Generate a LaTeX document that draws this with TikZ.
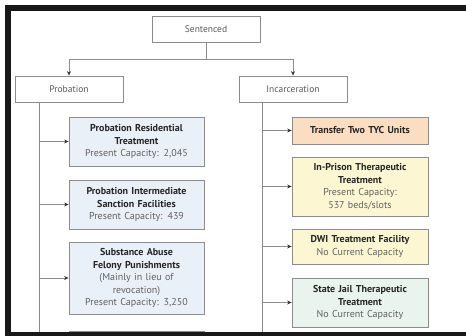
\documentclass[tikz,border=0pt]{standalone}
\usepackage{fontspec}
\setmainfont{PT Sans}
\usetikzlibrary{arrows.meta}
\definecolor{lineg}{HTML}{8C8C8C}
\definecolor{probfill}{HTML}{EAF0F8}
\definecolor{tycfill}{HTML}{FBDDC2}
\definecolor{prisonfill}{HTML}{FCF7D2}
\definecolor{jailfill}{HTML}{E9F4EE}
\newcommand{\capline}[1]{{\color{black!62}#1}}
\begin{document}
\begin{tikzpicture}[x=1pt,y=-1pt,
        stage/.style={draw=lineg,line width=0.8pt,fill=white,text=black!65,
            minimum width=108pt,minimum height=26pt,inner sep=2pt,
            font=\fontsize{9.5}{11}\selectfont},
        prog/.style={draw=lineg,line width=0.8pt,text=black!85,
            minimum width=135pt,text width=131pt,align=center,inner sep=2pt,
            font=\fontsize{10}{12.5}\selectfont},
        link/.style={draw=lineg,line width=0.8pt},
        arr/.style={link,-{Stealth[length=4.5pt,width=4pt,black!80]}}]
    \useasboundingbox (0,0) rectangle (466,336);

    % stages
    \node[stage] (sent) at (206,29) {Sentenced};
    \node[stage] (prob) at (69,89) {Probation};
    \node[stage] (inc) at (293,89) {Incarceration};

    \coordinate (split) at (206,59);
    \draw[link] (sent.south) -- (split);
    \draw[arr] (split) -| (prob.north);
    \draw[arr] (split) -| (inc.north);

    % probation side
    \node[prog,fill=probfill,minimum height=49pt] (res) at (136.5,141.5)
        {\textbf{Probation Residential}\\\textbf{Treatment}\\\capline{Present Capacity: 2,045}};
    \node[prog,fill=probfill,minimum height=49pt] (isf) at (136.5,204.5)
        {\textbf{Probation Intermediate}\\\textbf{Sanction Facilities}\\\capline{Present Capacity: 439}};
    \node[prog,fill=probfill,minimum height=72pt] (safp) at (136.5,278)
        {\textbf{Substance Abuse}\\\textbf{Felony Punishments}\\\capline{(Mainly in lieu of}\\\capline{revocation)}\\\capline{Present Capacity: 3,250}};
    \node[prog,fill=jailfill,minimum height=30pt] (more) at (136.5,346) {};

    \coordinate (pend) at (39,336);
    \draw[link] (prob.south -| pend) -- (pend);
    \foreach \b in {res,isf,safp}
        \draw[arr] (pend |- \b.west) -- (\b.west);

    % incarceration side
    \node[prog,fill=tycfill,minimum width=136pt,minimum height=27pt] (tyc) at (360,130.5)
        {\textbf{Transfer Two TYC Units}};
    \node[prog,fill=prisonfill,minimum width=136pt,minimum height=59pt] (ipt) at (360,186.5)
        {\textbf{In-Prison Therapeutic}\\\textbf{Treatment}\\\capline{Present Capacity:}\\\capline{537 beds/slots}};
    \node[prog,fill=prisonfill,minimum width=136pt,minimum height=35pt] (dwi) at (360,246.5)
        {\textbf{DWI Treatment Facility}\\\capline{No Current Capacity}};
    \node[prog,fill=jailfill,minimum width=136pt,minimum height=49pt] (sjt) at (360,302.5)
        {\textbf{State Jail Therapeutic}\\\textbf{Treatment}\\\capline{No Current Capacity}};

    \coordinate (iend) at (262,336);
    \draw[link] (inc.south -| iend) -- (iend);
    \foreach \b in {tyc,ipt,dwi,sjt}
        \draw[arr] (iend |- \b.west) -- (\b.west);

    % frame
    \fill[black!90] (5,5) rectangle (466,11);
    \fill[black!90] (5,5) rectangle (11,336);
    \fill[black!90] (5,332) rectangle (466,336);
\end{tikzpicture}
\end{document}
